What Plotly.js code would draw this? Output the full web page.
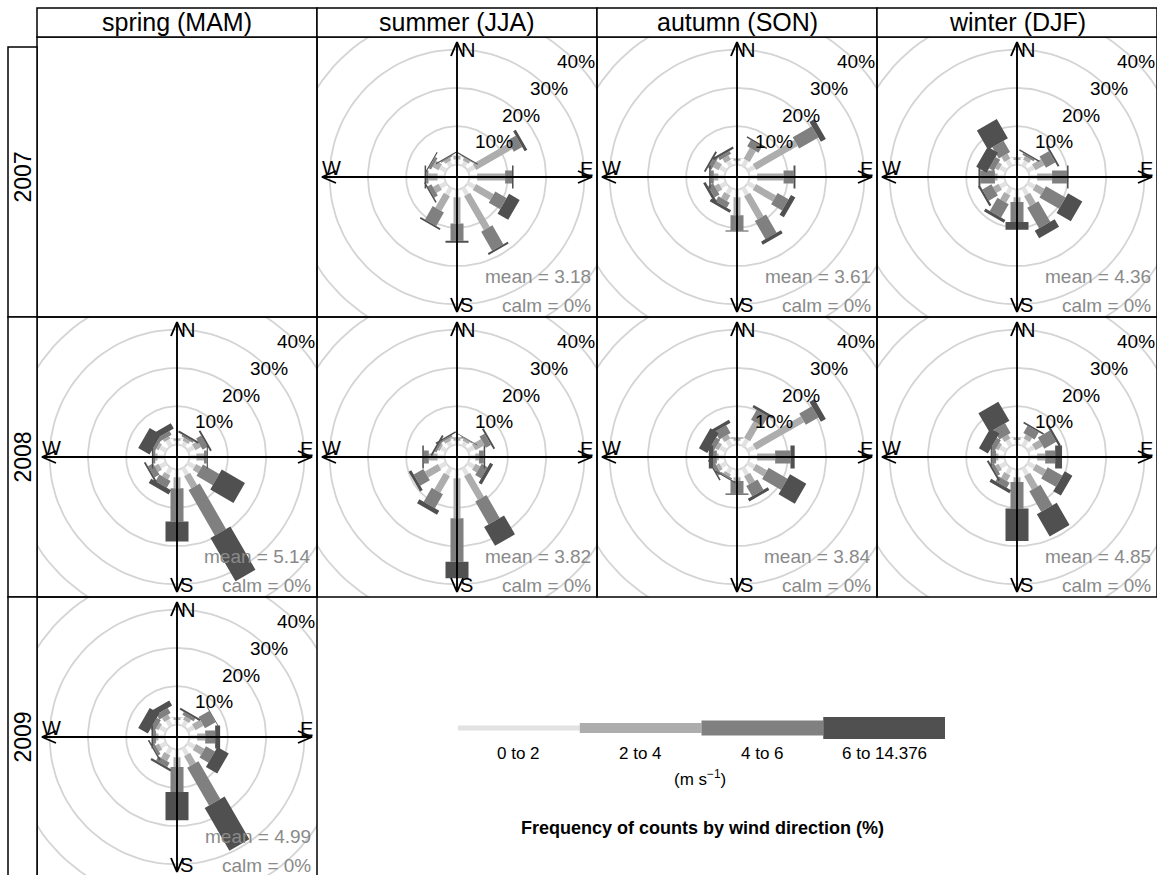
<!DOCTYPE html>
<html><head><meta charset="utf-8">
<script src="https://cdn.plot.ly/plotly-3.0.1.min.js"></script>
<style>html,body{margin:0;padding:0;background:#fff}</style>
</head><body>
<div id="chart" style="width:1157px;height:875px"></div>
<script>
// ---------------- data ----------------
const seasons = ["spring (MAM)", "summer (JJA)", "autumn (SON)", "winter (DJF)"];
const years = ["2007", "2008", "2009"];
const directions = [0, 30, 60, 90, 120, 150, 180, 210, 240, 270, 300, 330];
const speedBins = ["0 to 2", "2 to 4", "4 to 6", "6 to 14.376"];
const gridLevels = [10, 20, 30, 40];
// cumulative frequency (%) at the upper edge of each speed bin, per direction (N, NNE, ENE, E, ...)
const summer2007 = [[1.3,2.2,2.3,2.3],[1.3,2.0,2.2,2.5],[2.0,12.9,15.4,16.2],[2.0,9.3,11.1,11.5],[2.0,7.3,10.7,13.9],[2.0,12.3,18.0,18.5],[2.0,8.9,13.4,13.9],[2.0,6.5,10.5,11.0],[1.8,3.5,4.6,5.0],[1.8,4.2,4.8,5.2],[1.8,3.6,4.3,4.6],[1.3,2.0,2.3,2.6]];
const autumn2007 = [[1.0,1.5,1.6,1.6],[1.8,5.0,6.9,7.3],[2.0,14.5,20.3,21.8],[2.0,8.9,11.5,12.0],[2.0,8.0,11.3,12.6],[2.0,9.0,14.5,15.4],[2.0,6.7,10.7,11.0],[1.8,3.5,5.0,5.8],[1.7,3.0,4.5,5.2],[1.6,2.8,3.6,4.0],[1.8,3.5,4.5,5.0],[1.5,2.8,3.6,4.2]];
const winter2007 = [[1.2,1.8,1.9,1.9],[1.5,2.5,3.0,3.4],[1.8,4.5,7.3,7.8],[2.0,5.9,9.8,10.2],[2.0,4.5,10.4,14.7],[2.0,5.0,11.2,13.5],[2.0,3.3,8.5,10.5],[1.8,4.0,8.0,8.8],[1.8,3.5,6.2,6.8],[1.8,2.5,6.3,6.8],[1.8,2.8,4.2,7.3],[1.8,3.3,6.7,12.5]];
const spring2008 = [[1.0,1.5,1.6,1.6],[1.2,2.0,2.5,3.0],[1.8,3.5,5.0,5.5],[1.8,3.8,4.5,4.8],[2.0,3.6,8.5,15.5],[2.0,5.7,19.4,32.5],[2.0,4.9,13.6,18.8],[1.8,3.0,5.0,6.3],[1.8,3.0,4.5,5.0],[1.8,2.4,3.0,3.3],[1.8,2.5,3.3,6.7],[1.8,2.5,3.6,5.2]];
const summer2008 = [[1.0,1.6,1.8,1.8],[1.2,1.8,2.0,2.2],[1.8,4.5,6.0,6.5],[1.5,2.5,3.7,4.1],[1.8,3.2,5.0,5.9],[2.0,9.2,16.1,21.8],[2.3,12.7,24.1,28.4],[2.0,7.0,11.2,12.4],[2.0,5.9,8.8,9.6],[1.8,4.1,5.4,5.8],[1.5,2.0,2.5,3.0],[1.3,2.0,2.4,2.8]];
const autumn2008 = [[1.0,1.6,1.8,1.8],[2.0,7.0,10.0,10.7],[2.0,16.5,20.3,21.8],[2.0,6.7,10.7,11.8],[2.0,5.3,11.0,15.9],[2.0,4.5,7.6,8.4],[2.0,3.0,6.3,6.6],[1.5,2.2,2.6,2.9],[1.6,2.5,3.4,3.8],[1.5,2.0,3.0,4.1],[1.8,2.8,4.0,6.5],[1.8,3.0,5.3,6.2]];
const winter2008 = [[1.2,1.8,1.9,1.9],[1.8,3.0,5.2,5.6],[1.8,4.0,7.6,8.2],[2.0,4.1,6.7,8.5],[2.0,5.0,9.4,11.7],[2.0,6.1,12.3,19.0],[2.0,3.3,10.2,18.7],[1.8,3.5,5.0,5.9],[1.8,2.8,3.6,4.1],[1.6,2.2,3.3,3.6],[1.8,2.6,3.8,6.5],[1.8,3.0,5.9,11.7]];
const spring2009 = [[1.2,1.8,1.9,1.9],[1.5,2.5,3.3,3.8],[1.8,4.2,7.4,7.6],[2.0,4.1,6.7,8.0],[2.0,4.5,7.2,10.6],[2.0,5.0,16.4,29.3],[2.0,4.6,11.1,18.5],[1.8,3.5,4.8,5.4],[1.7,2.7,3.4,3.8],[1.6,2.2,3.0,3.4],[1.8,2.6,3.8,6.7],[1.8,3.0,4.5,6.0]];
const meanSpeeds = {summer2007: 3.18, autumn2007: 3.61, winter2007: 4.36, spring2008: 5.14, summer2008: 3.82, autumn2008: 3.84, winter2008: 4.85, spring2009: 4.99};
const calmPct = 0;

// ---------------- style / geometry ----------------
const W = 1157, H = 875;
const PX = 3.83;          // pixels per percent
const HOLE = 3.26;        // hole radius in percent units
const binColours = ["#E2E2E2", "#ADADAD", "#808080", "#505050"];
const paddlePx = [4.5, 7, 13, 23];
const keyThickPx = [5, 10, 15, 22];
const FONT = "Liberation Sans, Arial, Helvetica, sans-serif";
const colX0 = 37, rowY0 = 37, cell = 280;

const panels = [
  {season: 1, year: 0, data: summer2007, mean: meanSpeeds.summer2007},
  {season: 2, year: 0, data: autumn2007, mean: meanSpeeds.autumn2007},
  {season: 3, year: 0, data: winter2007, mean: meanSpeeds.winter2007},
  {season: 0, year: 1, data: spring2008, mean: meanSpeeds.spring2008},
  {season: 1, year: 1, data: summer2008, mean: meanSpeeds.summer2008},
  {season: 2, year: 1, data: autumn2008, mean: meanSpeeds.autumn2008},
  {season: 3, year: 1, data: winter2008, mean: meanSpeeds.winter2008},
  {season: 0, year: 2, data: spring2009, mean: meanSpeeds.spring2009}
];

const px2x = x => x / W;
const px2y = y => 1 - y / H;
const traces = [], annotations = [], shapes = [];
const layout = {
  width: W, height: H, margin: {l: 0, r: 0, t: 0, b: 0},
  paper_bgcolor: "#fff", plot_bgcolor: "#fff", showlegend: false,
  font: {family: FONT, color: "#000"}
};
const centred = {xanchor: "center", yanchor: "middle", showarrow: false};

panels.forEach((p, i) => {
  const n = i + 1, xs = n === 1 ? "" : String(n);
  const left = colX0 + p.season * cell, top = rowY0 + p.year * cell;
  const right = left + cell, bottom = Math.min(top + cell, H);
  const cx = left + cell / 2, cy = top + cell / 2;
  layout["xaxis" + xs] = {domain: [px2x(left), px2x(right)], range: [(left - cx) / PX, (right - cx) / PX],
    visible: false, fixedrange: true, anchor: "y" + xs};
  layout["yaxis" + xs] = {domain: [px2y(bottom), px2y(top)], range: [(cy - bottom) / PX, (cy - top) / PX],
    visible: false, fixedrange: true, anchor: "x" + xs};
  const xa = "x" + xs, ya = "y" + xs;

  // grid circles
  const cxs = [], cys = [];
  [0].concat(gridLevels).forEach(g => {
    const r = HOLE + g;
    for (let a = 0; a <= 360; a += 3) { cxs.push(r * Math.sin(a * Math.PI / 180)); cys.push(r * Math.cos(a * Math.PI / 180)); }
    cxs.push(null); cys.push(null);
  });
  traces.push({type: "scatter", mode: "lines", x: cxs, y: cys, xaxis: xa, yaxis: ya,
    line: {color: "#D4D4D4", width: 1.8}, hoverinfo: "skip"});

  // paddles, one trace per speed bin
  speedBins.forEach((b, k) => {
    const X = [], Y = [];
    directions.forEach((d, j) => {
      const r1 = HOLE + (k === 0 ? 0 : p.data[j][k - 1]);
      const r2 = HOLE + p.data[j][k];
      if (r2 - r1 <= 0) return;
      const t = d * Math.PI / 180;
      const ux = Math.sin(t), uy = Math.cos(t), vx = Math.cos(t), vy = -Math.sin(t);
      const h = paddlePx[k] / 2 / PX;
      X.push(r1 * ux + h * vx, r2 * ux + h * vx, r2 * ux - h * vx, r1 * ux - h * vx, r1 * ux + h * vx, null);
      Y.push(r1 * uy + h * vy, r2 * uy + h * vy, r2 * uy - h * vy, r1 * uy - h * vy, r1 * uy + h * vy, null);
    });
    traces.push({type: "scatter", mode: "lines", x: X, y: Y, xaxis: xa, yaxis: ya, fill: "toself",
      fillcolor: binColours[k], line: {width: 0, color: binColours[k]}, hoverinfo: "skip"});
  });

  // compass axes with open arrowheads
  const L = 135 / PX, AL = 14 / PX, AW = 6 / PX;
  const AX = [], AY = [];
  AX.push(-L, L, null, 0, 0, null); AY.push(0, 0, null, -L, L, null);
  [[0, 1], [0, -1], [1, 0], [-1, 0]].forEach(([dx, dy]) => {
    const tx = dx * L, ty = dy * L;
    AX.push(tx - dx * AL + dy * AW, tx, tx - dx * AL - dy * AW, null);
    AY.push(ty - dy * AL - dx * AW, ty, ty - dy * AL + dx * AW, null);
  });
  traces.push({type: "scatter", mode: "lines", x: AX, y: AY, xaxis: xa, yaxis: ya,
    line: {color: "#000", width: 1.9}, hoverinfo: "skip"});

  const ann = (x, y, text, o) => annotations.push(Object.assign({xref: xa, yref: ya, x: x, y: y, text: text},
    centred, {font: {family: FONT, size: 19, color: "#000"}}, o || {}));
  ann(11 / PX, 127 / PX, "N", {font: {family: FONT, size: 20, color: "#000"}});
  ann(9 / PX, -128 / PX, "S", {font: {family: FONT, size: 20, color: "#000"}});
  ann(-126 / PX, 9 / PX, "W", {font: {family: FONT, size: 20, color: "#000"}});
  ann(129 / PX, 8 / PX, "E", {font: {family: FONT, size: 20, color: "#000"}});
  gridLevels.forEach(g => {
    const r = HOLE + g, t = 46 * Math.PI / 180;
    ann(r * Math.sin(t), r * Math.cos(t), g + "%");
  });
  ann(136 / PX, -99 / PX, "mean = " + p.mean.toFixed(2), {xanchor: "right", font: {family: FONT, size: 19, color: "#8A8A8A"}});
  ann(136 / PX, -128 / PX, "calm = " + calmPct + "%", {xanchor: "right", font: {family: FONT, size: 19, color: "#8A8A8A"}});
});

// panel frames (including the empty spring 2007 panel)
const frames = [[0,0],[1,0],[2,0],[3,0],[0,1],[1,1],[2,1],[3,1],[0,2]];
frames.forEach(([c, r]) => {
  shapes.push({type: "rect", xref: "paper", yref: "paper", x0: px2x(colX0 + c * cell), x1: px2x(colX0 + (c + 1) * cell),
    y0: px2y(Math.min(rowY0 + (r + 1) * cell, H + 2)), y1: px2y(rowY0 + r * cell), line: {color: "#000", width: 1.5}});
});
// top strips
seasons.forEach((s, c) => {
  const l = colX0 + c * cell;
  shapes.push({type: "rect", xref: "paper", yref: "paper", x0: px2x(l), x1: px2x(l + cell), y0: px2y(37), y1: px2y(8),
    fillcolor: "#fff", line: {color: "#000", width: 1.5}});
  annotations.push(Object.assign({xref: "paper", yref: "paper", x: px2x(l + cell / 2), y: px2y(22.5), text: s,
    font: {family: FONT, size: 25, color: "#000"}}, centred));
});
// left strips
years.forEach((yv, r) => {
  const t = r === 0 ? 47 : rowY0 + r * cell, b = Math.min(rowY0 + (r + 1) * cell, H + 2);
  shapes.push({type: "rect", xref: "paper", yref: "paper", x0: px2x(8), x1: px2x(37), y0: px2y(b), y1: px2y(t),
    fillcolor: "#fff", line: {color: "#000", width: 1.5}});
  annotations.push(Object.assign({xref: "paper", yref: "paper", x: px2x(22.5), y: px2y(rowY0 + r * cell + cell / 2), text: yv,
    textangle: -90, font: {family: FONT, size: 23, color: "#000"}}, centred));
});

// key (speed bins)
const kx = "x9", ky = "y9";
layout.xaxis9 = {domain: [px2x(458), px2x(945)], range: [0, speedBins.length], visible: false, fixedrange: true, anchor: "y9"};
layout.yaxis9 = {domain: [px2y(756), px2y(700)], range: [-28, 28], visible: false, fixedrange: true, anchor: "x9"};
speedBins.forEach((b, k) => {
  const h = keyThickPx[k] / 2;
  traces.push({type: "scatter", mode: "lines", x: [k, k + 1, k + 1, k, k], y: [-h, -h, h, h, -h], xaxis: kx, yaxis: ky,
    fill: "toself", fillcolor: binColours[k], line: {width: 0, color: binColours[k]}, hoverinfo: "skip"});
  annotations.push(Object.assign({xref: kx, yref: "paper", x: k + 0.5, y: px2y(753), text: b,
    font: {family: FONT, size: 17, color: "#000"}}, centred));
});
annotations.push(Object.assign({xref: "paper", yref: "paper", x: px2x(700), y: px2y(778), text: "(m s<sup>−1</sup>)",
  font: {family: FONT, size: 17, color: "#000"}}, centred));
annotations.push(Object.assign({xref: "paper", yref: "paper", x: px2x(702), y: px2y(828), text: "<b>Frequency of counts by wind direction (%)</b>",
  font: {family: FONT, size: 18, color: "#000"}}, centred));

layout.annotations = annotations;
layout.shapes = shapes;
Plotly.newPlot("chart", traces, layout, {staticPlot: true, displayModeBar: false});
</script>
</body></html>
